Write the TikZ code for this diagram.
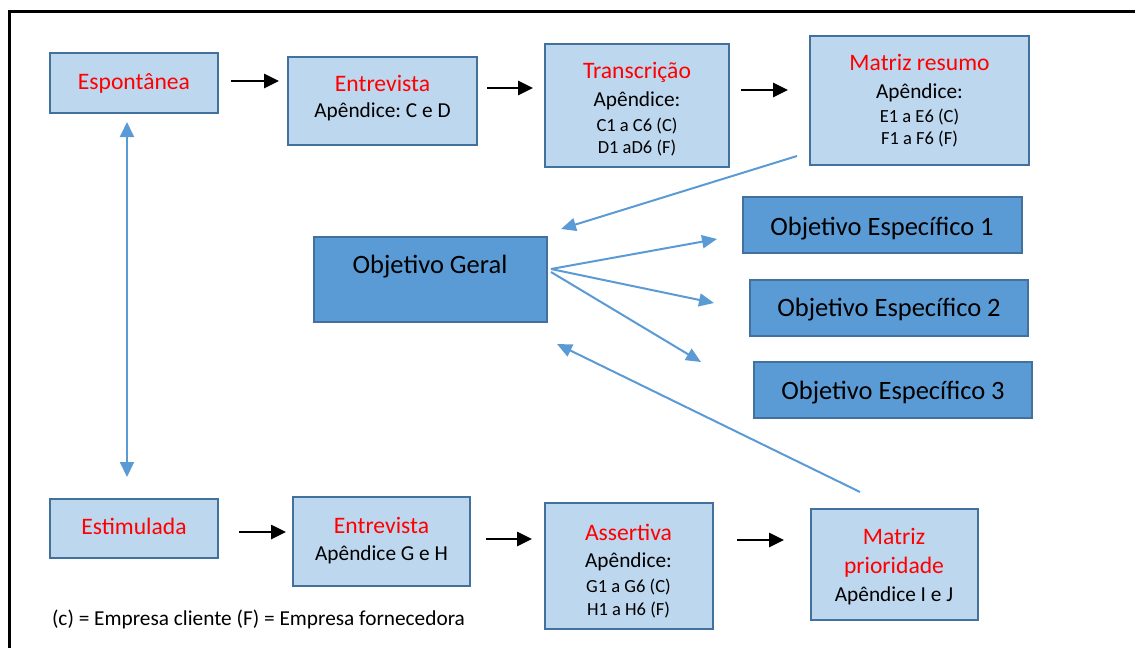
\documentclass[tikz,border=0pt]{standalone}
\usepackage{fontspec}
\setmainfont{Carlito}
\usetikzlibrary{arrows.meta}
\definecolor{boxlight}{HTML}{BDD7EE}
\definecolor{boxdark}{HTML}{5B9BD5}
\definecolor{boxedge}{HTML}{41719C}
\definecolor{bluearrow}{HTML}{5B9BD5}
\definecolor{titlered}{HTML}{FF0000}
\newcommand\TtlF{\fontsize{23.6}{20}\selectfont\color{titlered}}
\newcommand\ApxF{\fontsize{21.3}{20}\selectfont\color{black}}
\newcommand\CodF{\fontsize{18.5}{20}\selectfont\color{black}}
\frenchspacing
\begin{document}
\begin{tikzpicture}[x=1pt,y=-1pt,
  lightbox/.style={draw=boxedge, line width=2pt, fill=boxlight, inner sep=0pt},
  darkbox/.style={draw=boxedge, line width=2pt, fill=boxdark, inner sep=0pt},
  boxtext/.style={inner sep=0pt, align=center,
    font={\fontsize{10}{20}\selectfont\lineskiplimit=-60pt\frenchspacing}},
  objtext/.style={inner sep=0pt, font=\fontsize{26.5}{30}\selectfont},
  blackarrow/.style={line width=2.6pt, -{Triangle[length=15pt,width=14pt]}},
  bluearr/.style={draw=bluearrow, line width=2pt, -{Triangle[length=15pt,width=13pt]}},
  bluedbl/.style={draw=bluearrow, line width=2pt, {Triangle[length=15pt,width=14pt]}-{Triangle[length=15pt,width=14pt]}},
  legendtext/.style={font=\fontsize{21.3}{25}\selectfont, inner sep=0pt},
]
\useasboundingbox (0,0) rectangle (1135,648);
\draw[line width=3.4pt] (9.2,648) -- (9.2,11.7) -- (1135,11.7);

% top row
\node[lightbox, minimum width=168pt, minimum height=60pt] (esp) at (134,83) {};
\node[boxtext] (espT) at (esp.center) {\TtlF Espontânea};
\node[lightbox, minimum width=189pt, minimum height=88pt] (ent1) at (382.5,101) {};
\node[boxtext] (ent1T) at ([yshift=2.5pt]ent1.center) {\TtlF Entrevista\\[6pt] \ApxF Apêndice: C e D};
\node[lightbox, minimum width=184pt, minimum height=123pt] (tra) at (637,105.5) {};
\node[boxtext] (traT) at ([yshift=-3.5pt]tra.center) {\TtlF Transcrição\\[8pt] \ApxF Apêndice:\\[5pt] \CodF C1 a C6 (C)\\[2pt] \CodF D1 aD6 (F)};
\node[lightbox, minimum width=219pt, minimum height=129pt] (mr) at (919.5,100.5) {};
\node[boxtext] (mrT) at (mr.center) {\TtlF Matriz resumo\\[8pt] \ApxF Apêndice:\\[4pt] \CodF E1 a E6 (C)\\[2pt] \CodF F1 a F6 (F)};

% objectives
\node[darkbox, minimum width=233pt, minimum height=85pt] (og) at (430,279) {};
\node[objtext] (ogT) at ([yshift=12pt]og.center) {Objetivo Geral};
\node[darkbox, minimum width=279pt, minimum height=56pt] (oe1) at (882,225) {};
\node[objtext] (oe1T) at ([yshift=-3.5pt]oe1.center) {Objetivo Específico 1};
\node[darkbox, minimum width=278pt, minimum height=56pt] (oe2) at (889,307.5) {};
\node[objtext] (oe2T) at ([yshift=-2pt]oe2.center) {Objetivo Específico 2};
\node[darkbox, minimum width=278pt, minimum height=56pt] (oe3) at (893,390) {};
\node[objtext] (oe3T) at ([yshift=-2.5pt]oe3.center) {Objetivo Específico 3};

% bottom row
\node[lightbox, minimum width=168pt, minimum height=59pt] (est) at (134,528.5) {};
\node[boxtext] (estT) at ([yshift=2pt]est.center) {\TtlF Estimulada};
\node[lightbox, minimum width=177pt, minimum height=89pt] (ent2) at (381.5,541.5) {};
\node[boxtext] (ent2T) at ([yshift=1pt]ent2.center) {\TtlF Entrevista\\[7pt] \ApxF Apêndice G e H};
\node[lightbox, minimum width=168pt, minimum height=126pt] (ass) at (628.5,566) {};
\node[boxtext] (assT) at ([yshift=-5pt]ass.center) {\TtlF Assertiva\\[7pt] \ApxF Apêndice:\\[5pt] \CodF G1 a G6 (C)\\[3pt] \CodF H1 a H6 (F)};
\node[lightbox, minimum width=167pt, minimum height=111pt] (mp) at (894,564.5) {};
\node[boxtext] (mpT) at ([yshift=-2pt]mp.center) {\TtlF Matriz\\[9pt] \TtlF prioridade\\[8pt] \ApxF Apêndice I e J};

\node[legendtext] (leg) at (258.5,619) {(c) = Empresa cliente (F) = Empresa fornecedora};

% black arrows
\draw[blackarrow] ([xshift=12pt,yshift=2pt]esp.east) -- ([xshift=-8pt,yshift=20pt]ent1.west);
\draw[blackarrow] ([xshift=9pt,yshift=13pt]ent1.east) -- ([xshift=-11pt,yshift=17.5pt]tra.west);
\draw[blackarrow] ([xshift=11pt,yshift=15.5pt]tra.east) -- ([xshift=-21pt,yshift=10.5pt]mr.west);
\draw[blackarrow] ([xshift=20pt,yshift=-3.5pt]est.east) -- ([xshift=-6pt,yshift=9.5pt]ent2.west);
\draw[blackarrow] ([xshift=15pt,yshift=2.5pt]ent2.east) -- ([xshift=-11.5pt,yshift=27pt]ass.west);
\draw[blackarrow] ([xshift=23.5pt,yshift=26pt]ass.east) -- ([xshift=-25.5pt,yshift=24.5pt]mp.west);

% blue arrows
\draw[bluedbl] ([xshift=-7pt,yshift=-8pt]esp.south) -- ([xshift=-7pt,yshift=21pt]est.north);
\draw[bluearr] ([xshift=-12pt,yshift=10pt]mr.south west) -- ([xshift=13.5pt,yshift=6.5pt]og.north east);
\draw[bluearr] ([xshift=3.5pt,yshift=10pt]og.east) -- ([xshift=-24.5pt,yshift=-14pt]oe1.west);
\draw[bluearr] ([xshift=3.5pt,yshift=10pt]og.east) -- ([xshift=-35pt,yshift=4.5pt]oe2.west);
\draw[bluearr] ([xshift=3.5pt,yshift=7pt]og.east) -- ([xshift=-52pt,yshift=28pt]oe3.west);
\draw[bluearr] ([xshift=-34pt,yshift=16pt]mp.north) -- ([xshift=9.5pt,yshift=-21.5pt]og.south east);
\end{tikzpicture}
\end{document}
